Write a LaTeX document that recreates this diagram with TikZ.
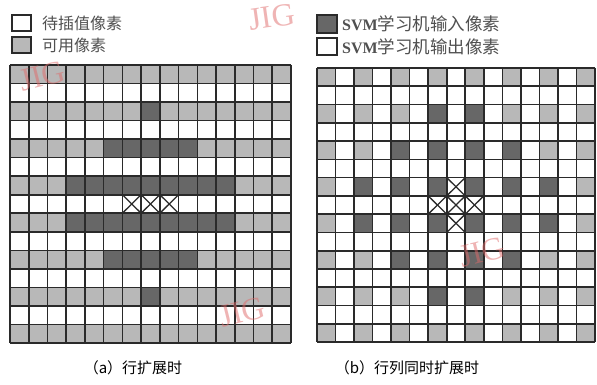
\documentclass[tikz,border=0pt]{standalone}
\usepackage{fontspec}
\newfontfamily\cjk{Noto Sans CJK SC}
\newfontfamily\wmfont{Liberation Serif}
\setmainfont{Liberation Serif}
\definecolor{lgray}{HTML}{B8B8B8}
\definecolor{dgray}{HTML}{676767}
\definecolor{gline}{HTML}{2A2A2A}
\definecolor{txtc}{HTML}{505050}
\definecolor{wmc}{HTML}{E06A6A}
\tikzset{
  gridline/.style={draw=gline, line width=1.6pt},
  xline/.style={draw=gline, line width=1.3pt},
  legbox/.style={draw=gline, line width=1.2pt},
  legtxt/.style={anchor=west, inner sep=0pt, text=txtc},
  captxt/.style={anchor=center, inner sep=0pt, text=black, font=\cjk\fontsize{15}{15}\selectfont},
  wmark/.style={text=wmc, opacity=0.5, font=\wmfont\fontsize{32}{32}\selectfont, inner sep=0pt}
}
\begin{document}
\begin{tikzpicture}[x=1pt,y=-1pt]
\useasboundingbox (0,0) rectangle (597,385);
\fill[white] (0,0) rectangle (597,385);

% ---------- left grid (a) ----------
\def\LX{10}\def\LY{65}\def\LW{18.73}\def\LH{18.53}
\foreach \r in {1,3,...,15}
  \fill[lgray] (\LX,{\LY+(\r-1)*\LH}) rectangle ({\LX+15*\LW},{\LY+\r*\LH});
\foreach \r/\a/\b in {3/8/8,5/6/10,7/4/12,9/4/12,11/6/10,13/8/8}
  \fill[dgray] ({\LX+(\a-1)*\LW},{\LY+(\r-1)*\LH}) rectangle ({\LX+\b*\LW},{\LY+\r*\LH});
\foreach \r/\c in {8/7,8/8,8/9}{
  \draw[xline] ({\LX+(\c-1)*\LW},{\LY+(\r-1)*\LH}) -- ({\LX+\c*\LW},{\LY+\r*\LH});
  \draw[xline] ({\LX+(\c-1)*\LW},{\LY+\r*\LH}) -- ({\LX+\c*\LW},{\LY+(\r-1)*\LH});
}
\foreach \i in {0,...,15}{
  \draw[gridline] ({\LX+\i*\LW},\LY) -- ({\LX+\i*\LW},{\LY+15*\LH});
  \draw[gridline] (\LX,{\LY+\i*\LH}) -- ({\LX+15*\LW},{\LY+\i*\LH});
}

% ---------- right grid (b) ----------
\def\RX{317}\def\RY{68}\def\RW{18.53}\def\RH{18.27}
\foreach \r in {1,3,...,15}
  \foreach \c in {1,3,...,15}
    \fill[lgray] ({\RX+(\c-1)*\RW},{\RY+(\r-1)*\RH}) rectangle ({\RX+\c*\RW},{\RY+\r*\RH});
\foreach \r/\c in {3/7,3/9,5/5,5/7,5/9,5/11,7/3,7/5,7/7,7/9,7/11,7/13,
                   9/3,9/5,9/7,9/9,9/11,9/13,11/5,11/7,11/9,11/11,13/7,13/9}
  \fill[dgray] ({\RX+(\c-1)*\RW},{\RY+(\r-1)*\RH}) rectangle ({\RX+\c*\RW},{\RY+\r*\RH});
\foreach \r/\c in {7/8,8/7,8/8,8/9,9/8}{
  \draw[xline] ({\RX+(\c-1)*\RW},{\RY+(\r-1)*\RH}) -- ({\RX+\c*\RW},{\RY+\r*\RH});
  \draw[xline] ({\RX+(\c-1)*\RW},{\RY+\r*\RH}) -- ({\RX+\c*\RW},{\RY+(\r-1)*\RH});
}
\foreach \i in {0,...,15}{
  \draw[gridline] ({\RX+\i*\RW},\RY) -- ({\RX+\i*\RW},{\RY+15*\RH});
  \draw[gridline] (\RX,{\RY+\i*\RH}) -- ({\RX+15*\RW},{\RY+\i*\RH});
}

% ---------- legends ----------
\draw[legbox, fill=white] (12,15) rectangle (31,31);
\node[legtxt, font=\cjk\fontsize{16}{16}\selectfont] (la1) at (42,23) {待插值像素};
\draw[legbox, fill=lgray] (12,37) rectangle (31,53);
\node[legtxt, font=\cjk\fontsize{16}{16}\selectfont] (la2) at (42,45) {可用像素};

\draw[legbox, fill=dgray] (317,15) rectangle (337,33);
\node[legtxt, font=\fontsize{16}{16}\selectfont] (lb1) at (342,24) {\textbf{SVM}\cjk\fontsize{17.5}{17.5}\selectfont 学习机输入像素};
\draw[legbox, fill=white] (317,38) rectangle (337,55);
\node[legtxt, font=\fontsize{16}{16}\selectfont] (lb2) at (342,47) {\textbf{SVM}\cjk\fontsize{17.5}{17.5}\selectfont 学习机输出像素};

% ---------- captions ----------
\node[captxt] (capa) at (133,368) {（a）行扩展时};
\node[captxt] (capb) at (407,368) {（b）行列同时扩展时};

% ---------- watermarks ----------
\node[wmark, rotate=8] (wm1) at (272,17) {JIG};
\node[wmark, rotate=14] (wm2) at (42,76) {JIG};
\node[wmark, rotate=14] (wm3) at (242,312) {JIG};
\node[wmark, rotate=14] (wm4) at (482,252) {JIG};
\end{tikzpicture}
\end{document}
